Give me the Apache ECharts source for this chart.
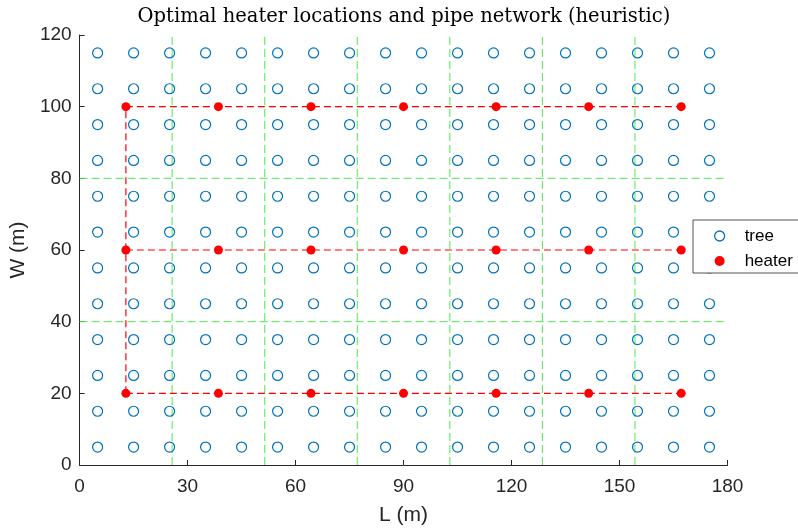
<!DOCTYPE html>
<html>
<head>
<meta charset="utf-8">
<script src="https://cdn.jsdelivr.net/npm/echarts@6/dist/echarts.min.js"></script>
<style>html,body{margin:0;padding:0;background:#fff;}#c{width:798px;height:531px;}</style>
</head>
<body>
<div id="c"></div>
<script>
// Tree grid coordinates (m)
const treeX = [5, 15, 25, 35, 45, 55, 65, 75, 85, 95, 105, 115, 125, 135, 145, 155, 165, 175];
const treeY = [5, 15, 25, 35, 45, 55, 65, 75, 85, 95, 105, 115];
// Heater coordinates (m)
const heaterX = [12.86, 38.57, 64.29, 90, 115.71, 141.43, 167.14];
const heaterY = [20, 60, 100];
// Zone boundaries (green dashed)
const zoneX = [25.71, 51.43, 77.14, 102.86, 128.57, 154.29];
const zoneY = [40, 80];
// Axis ticks
const xTicks = [0, 30, 60, 90, 120, 150, 180];
const yTicks = [0, 20, 40, 60, 80, 100, 120];

const treePts = [];
treeX.forEach(x => treeY.forEach(y => treePts.push([x, y])));
const heaterPts = [];
heaterY.forEach(y => heaterX.forEach(x => heaterPts.push([x, y])));

const xMin = xTicks[0], xMax = xTicks[xTicks.length - 1];
const yMin = yTicks[0], yMax = yTicks[yTicks.length - 1];

const zoneSegs = [];
zoneX.forEach(x => zoneSegs.push([[x, yMin], [x, yMax]]));
zoneY.forEach(y => zoneSegs.push([[xMin, y], [xMax, y]]));

const pipeSegs = [];
heaterY.forEach(y => pipeSegs.push([[heaterX[0], y], [heaterX[heaterX.length - 1], y]]));
pipeSegs.push([[heaterX[0], heaterY[0]], [heaterX[0], heaterY[heaterY.length - 1]]]);

function segSeries(segs, color, width, dash, z) {
  return segs.map((d, i) => ({
    name: '_seg' + z + '_' + i, type: 'line', data: d, z: z, silent: true,
    symbol: 'none', showSymbol: false,
    lineStyle: {color: color, width: width, type: dash, opacity: 1},
    itemStyle: {color: color}
  }));
}

const axisCol = '#262626';
const chart = echarts.init(document.getElementById('c'), null, {renderer: 'canvas'});
chart.setOption({
  animation: false,
  backgroundColor: '#fff',
  title: {
    text: 'Optimal heater locations and pipe network (heuristic)',
    left: 399, top: 2, textAlign: 'center',
    textStyle: {fontFamily: 'DejaVu Serif', fontSize: 19.5, fontWeight: 'normal', color: '#000'}
  },
  grid: {left: 79, right: 70.5, top: 35, bottom: 65, containLabel: false},
  legend: {
    left: 693, top: 220,
    orient: 'vertical',
    backgroundColor: '#fff',
    borderColor: axisCol, borderWidth: 0.8, borderRadius: 0,
    padding: [6, 40, 2, 21],
    itemGap: 5, itemWidth: 40, itemHeight: 10,
    textStyle: {fontFamily: 'Liberation Sans', fontSize: 17, color: '#000', lineHeight: 20},
    data: [
      {name: 'tree', icon: 'circle', itemStyle: {color: '#fff', borderColor: '#0072BD', borderWidth: 1.3, opacity: 1}},
      {name: 'heater', icon: 'circle', itemStyle: {color: '#FF0000', borderWidth: 0, opacity: 1}}
    ]
  },
  xAxis: {
    type: 'value', min: xMin, max: xMax, interval: 30,
    name: 'L (m)', nameLocation: 'middle', nameGap: 40,
    nameTextStyle: {fontFamily: 'Liberation Sans', fontSize: 21, color: axisCol},
    axisLine: {show: true, onZero: false, lineStyle: {color: axisCol, width: 1}},
    axisTick: {show: true, inside: true, length: 5, lineStyle: {color: axisCol}},
    axisLabel: {margin: 12, fontFamily: 'Liberation Sans', fontSize: 19, color: axisCol},
    splitLine: {show: false}
  },
  yAxis: {
    type: 'value', min: yMin, max: yMax, interval: 20,
    name: 'W (m)', nameLocation: 'middle', nameGap: 46,
    nameTextStyle: {fontFamily: 'Liberation Sans', fontSize: 21, color: axisCol},
    axisLine: {show: true, onZero: false, lineStyle: {color: axisCol, width: 1}},
    axisTick: {show: true, inside: true, length: 5, lineStyle: {color: axisCol}},
    axisLabel: {margin: 8, fontFamily: 'Liberation Sans', fontSize: 19, color: axisCol},
    splitLine: {show: false}
  },
  series: [].concat(
    segSeries(zoneSegs, '#4fe84f', 1, [8, 4], 1),
    [{
      name: 'tree', type: 'scatter', data: treePts, symbol: 'circle', symbolSize: 10, z: 2,
      itemStyle: {color: 'rgba(255,255,255,0)', borderColor: '#0072BD', borderWidth: 1.2, opacity: 1}
    }],
    segSeries(pipeSegs, '#FF0000', 1.2, [7, 4], 3),
    [{
      name: 'heater', type: 'scatter', data: heaterPts, symbol: 'circle', symbolSize: 9, z: 4,
      itemStyle: {color: '#FF0000', opacity: 1}
    }]
  )
});
</script>
</body>
</html>
